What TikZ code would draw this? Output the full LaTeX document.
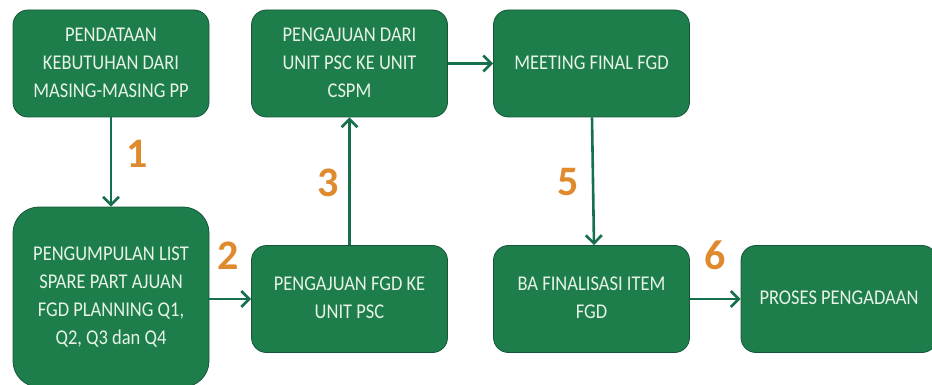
\documentclass[tikz,border=0pt]{standalone}
\usepackage{fontspec}
\usepackage{graphicx}
\setmainfont{Carlito}
\usetikzlibrary{arrows.meta,calc}

\definecolor{boxgreen}{HTML}{1E7E4B}
\definecolor{boxedge}{HTML}{15553A}
\definecolor{boxtext}{HTML}{E6F3E6}
\definecolor{flowgreen}{HTML}{17704C}
\definecolor{steporange}{HTML}{E08A2E}

% centred lines of box text, set slightly condensed
\newcommand\boxlines[1]{\scalebox{0.88}[1]{\begin{tabular}{@{}c@{}}#1\end{tabular}}}

\tikzset{
  stepbox/.style={draw=boxedge, line width=0.8pt, fill=boxgreen,
    rounded corners=15pt, minimum width=196pt, minimum height=107pt,
    text=boxtext, font=\fontsize{21pt}{28pt}\selectfont, inner sep=0pt},
  flow/.style={draw=flowgreen, line width=2.6pt,
    -{Straight Barb[length=8pt,width=16pt,line width=2.6pt]}},
  stepnum/.style={text=steporange, font=\bfseries\fontsize{42pt}{42pt}\selectfont, inner sep=0pt}
}

\begin{document}
\begin{tikzpicture}[x=1pt,y=-1pt]
  \useasboundingbox (0,0) rectangle (932,385);

  % process steps
  \node[stepbox] (A) at (111,63.5) {\boxlines{PENDATAAN\\KEBUTUHAN DARI\\MASING-MASING PP}};
  \node[stepbox, minimum height=180pt, rounded corners=26pt] (B) at (111,297)
    {\boxlines{PENGUMPULAN LIST\\SPARE PART AJUAN\\FGD PLANNING Q1,\\Q2, Q3 dan Q4}};
  \node[stepbox] (C) at (349.5,63.5) {\boxlines{PENGAJUAN DARI\\UNIT PSC KE UNIT\\CSPM}};
  \node[stepbox] (D) at (349.5,299) {\boxlines{PENGAJUAN FGD KE\\UNIT PSC}};
  \node[stepbox] (E) at (591.5,63.5) {\boxlines{MEETING FINAL FGD}};
  \node[stepbox] (F) at (591.5,299) {\boxlines{BA FINALISASI ITEM\\FGD}};
  \node[stepbox] (G) at (839,299) {\boxlines{PROSES PENGADAAN}};

  % connectors
  \draw[flow] (A.south) -- (B.north);
  \draw[flow] (D.west -| B.east) -- (D.west);
  \draw[flow] (D.north) -- (C.south);
  \draw[flow] (C.east) -- (E.west);
  \draw[flow] ($(E.south)+(0.5,0)$) -- ($(F.north)+(2.5,0)$);
  \draw[flow] (F.east) -- (G.west);

  % step numbers
  \node[stepnum] (n1) at (137,154) {1};
  \node[stepnum] (n2) at (228,256) {2};
  \node[stepnum] (n3) at (328,183) {3};
  \node[stepnum] (n5) at (568,182) {5};
  \node[stepnum] (n6) at (715,255) {6};
\end{tikzpicture}
\end{document}
